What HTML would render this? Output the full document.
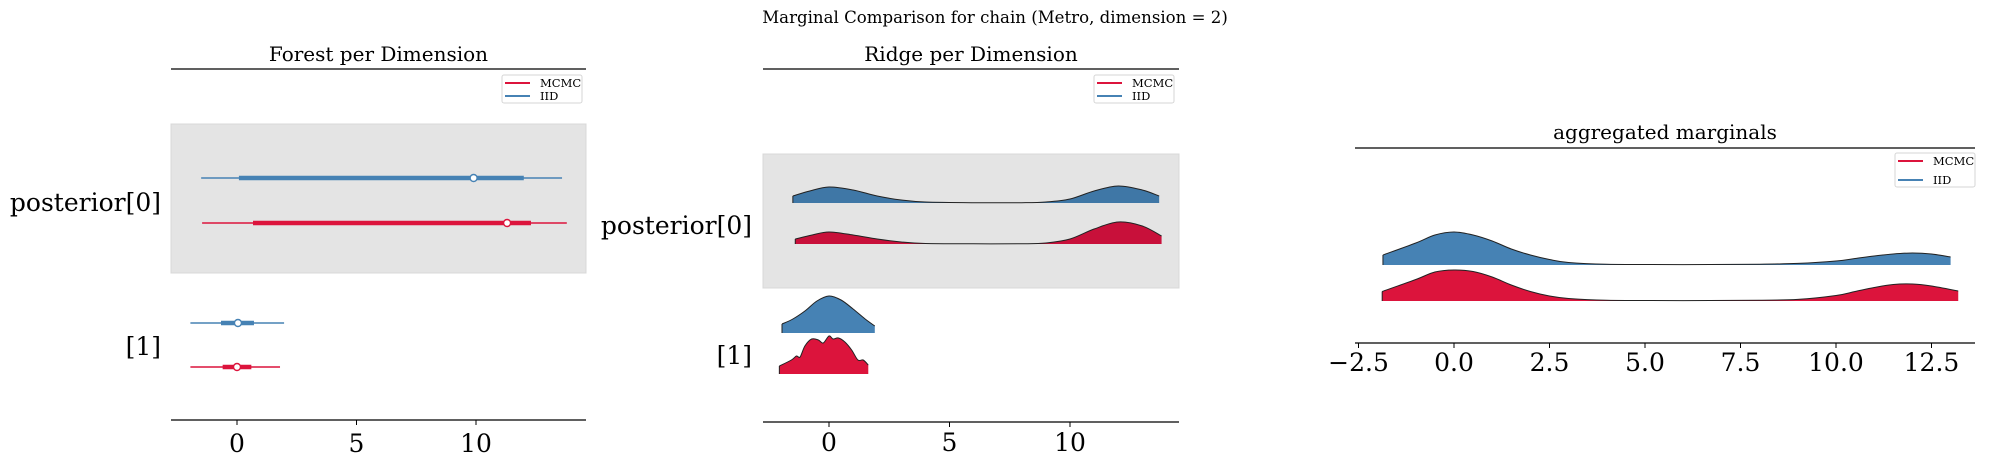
<!DOCTYPE html>
<html><head><meta charset="utf-8">
<style>
html,body{margin:0;padding:0;background:#fff;}
svg{display:block;font-family:"DejaVu Serif","Liberation Serif",serif;}
</style></head>
<body>
<svg id="fig" width="1990" height="465" viewBox="0 0 1990 465" xmlns="http://www.w3.org/2000/svg">
<text x="995" y="23" text-anchor="middle" font-size="16.6" fill="#000">Marginal Comparison for chain (Metro, dimension = 2)</text>
</svg>
<script>
// ---------- data ----------
const seriesNames = ["MCMC", "IID"];
const forestRows = ["posterior[0]", "[1]"];
// forest: [thinLow, thickLow, point, thickHigh, thinHigh]
const forestIID0 = [-1.5, 0.08, 9.9, 12.0, 13.6];
const forestMCMC0 = [-1.46, 0.67, 11.3, 12.3, 13.8];
const forestIID1 = [-1.95, -0.67, 0.04, 0.71, 1.97];
const forestMCMC1 = [-1.95, -0.6, 0.0, 0.6, 1.8];
const xTicksP12 = [0, 5, 10];
const xTicksP3 = [-2.5, 0.0, 2.5, 5.0, 7.5, 10.0, 12.5];
const xTickLabelsP3 = ["\u22122.5", "0.0", "2.5", "5.0", "7.5", "10.0", "12.5"];
// ridge densities (x grid, heights)
const ridgeIID0x = [-1.5, -0.8, 0, 1, 2, 3, 4, 6, 8, 9, 10, 11, 12, 13, 13.7];
const ridgeIID0d = [7, 12, 16, 13, 7, 3, 1, 0.3, 0.3, 1, 4, 12, 17, 13, 7];
const ridgeMCMC0x = [-1.4, -0.7, 0, 1, 2, 3, 4, 6, 8, 9, 10, 11, 12, 13, 13.8];
const ridgeMCMC0d = [5, 9, 12, 9, 5, 2, 0.5, 0.2, 0.2, 1, 5, 15, 22, 18, 8];
const ridgeIID1x = [-1.95, -1.5, -1, -0.5, 0, 0.5, 1, 1.5, 1.9];
const ridgeIID1d = [9, 14, 22, 32, 37, 33, 24, 14, 7];
const ridgeMCMC1x = [-2.06, -1.56, -1.35, -1.2, -1.0, -0.72, -0.44, -0.24, 0, 0.17, 0.39, 0.66, 0.94, 1.2, 1.42, 1.63];
const ridgeMCMC1d = [8, 14, 18, 17, 28, 35, 34, 31, 38, 35, 36, 32, 24, 14, 14, 9];
const aggIIDx = [-1.86, -1, -0.5, 0, 0.5, 1, 1.5, 2, 2.5, 3, 4, 6, 8, 9, 10, 10.5, 11, 11.5, 12, 12.5, 13.0];
const aggIIDd = [10, 22, 30, 33, 30, 24, 16, 10, 5.5, 2.5, 0.8, 0.4, 0.8, 1.6, 4, 6.5, 9, 11, 12, 11, 8];
const aggMCMCx = [-1.88, -1, -0.5, 0, 0.5, 1, 1.5, 2, 2.5, 3, 4, 6, 8, 9, 10, 10.5, 11, 11.5, 12, 12.5, 13.2];
const aggMCMCd = [9.5, 21.5, 29, 31, 29.5, 24, 16, 9.5, 5, 2.5, 0.8, 0.4, 0.8, 1.6, 5.5, 9.5, 13.5, 16.5, 17, 15, 10];

const RED = "#dc143c", BLUE = "#4682b4";
const NS = "http://www.w3.org/2000/svg";
const svg = document.getElementById("fig");
function mk(tag, attrs, parent) {
  const e = document.createElementNS(NS, tag);
  for (const k in attrs) e.setAttribute(k, attrs[k]);
  (parent || svg).appendChild(e);
  return e;
}
function txt(s, attrs) { const t = mk("text", attrs); t.textContent = s; return t; }

// ---------- axes frames ----------
function frame(name, left, right, top, bottom, title, titleY, xf, ticks, labels, labelY) {
  let e = mk("line", {x1: left, x2: right, y1: top, y2: top, stroke: "#000", "stroke-width": 1.2});
  
  
  e = mk("line", {x1: left, x2: right, y1: bottom, y2: bottom, stroke: "#000", "stroke-width": 1.2});
  
  
  e = txt(title, {x: (left + right) / 2, y: titleY + 6, "text-anchor": "middle", "font-size": 20});
  
  
  ticks.forEach((t, i) => {
    const x = xf(t);
    let m = mk("line", {x1: x, x2: x, y1: bottom, y2: bottom + 5, stroke: "#000", "stroke-width": 1});
    
    
    m = txt(labels[i], {x: x, y: labelY + 9, "text-anchor": "middle", "font-size": 25});
    
    
  });
}
function legend(name, x0, y0, w, h) {
  const g = mk("g", {});
  
  
  mk("rect", {x: x0, y: y0, width: w, height: h, rx: 2, fill: "#fff", stroke: "#d6d6d6", "stroke-width": 1}, g);
  [RED, BLUE].forEach((c, i) => {
    const y = y0 + 8 + i * (h - 15);
    mk("line", {x1: x0 + 3, x2: x0 + 28, y1: y, y2: y, stroke: c, "stroke-width": 2}, g);
    const t = mk("text", {x: x0 + 38, y: y + 4, "font-size": 11.5}, g);
    t.textContent = seriesNames[i];
    
    
  });
}
function ylabel(name, s, x, y) {
  const t = txt(s, {x: x, y: y + 9, "text-anchor": "end", "font-size": 25});
  
  
}

// ---------- panel 1: forest ----------
const p1x = v => 237 + v * 23.9;
let band = mk("rect", {x: 171, y: 124, width: 415, height: 149, fill: "#e4e4e4", stroke: "#d8d8d8"});


frame("forest", 171, 586, 69, 420, "Forest per Dimension", 55, p1x, xTicksP12, xTicksP12.map(String), 443);
function forest(vals, y, color, name) {
  const g = mk("g", {});
  
  
  mk("line", {x1: p1x(vals[0]), x2: p1x(vals[4]), y1: y, y2: y, stroke: color, "stroke-width": 1.6}, g);
  mk("line", {x1: p1x(vals[1]), x2: p1x(vals[3]), y1: y, y2: y, stroke: color, "stroke-width": 4.5}, g);
  mk("circle", {cx: p1x(vals[2]), cy: y, r: 3.5, fill: "#fff", stroke: color, "stroke-width": 1.4}, g);
}
forest(forestIID0, 178, BLUE, "forest-iid-posterior0");
forest(forestMCMC0, 223, RED, "forest-mcmc-posterior0");
forest(forestIID1, 323, BLUE, "forest-iid-posterior1");
forest(forestMCMC1, 367, RED, "forest-mcmc-posterior1");
ylabel("forest-y-label-posterior0", forestRows[0], 161, 202);
ylabel("forest-y-label-posterior1", forestRows[1], 161, 346);
legend("forest-legend", 502, 75, 80, 28);

// ---------- ridge helper ----------
function smoothPath(pts) {
  let d = "M" + pts[0][0] + "," + pts[0][1];
  for (let i = 0; i < pts.length - 1; i++) {
    const p0 = pts[Math.max(0, i - 1)], p1 = pts[i], p2 = pts[i + 1], p3 = pts[Math.min(pts.length - 1, i + 2)];
    const c1x = p1[0] + (p2[0] - p0[0]) / 6, c1y = p1[1] + (p2[1] - p0[1]) / 6;
    const c2x = p2[0] - (p3[0] - p1[0]) / 6, c2y = p2[1] - (p3[1] - p1[1]) / 6;
    d += " C" + c1x + "," + c1y + " " + c2x + "," + c2y + " " + p2[0] + "," + p2[1];
  }
  return d;
}
function ridge(xs, ds, xf, base, k, color, name) {
  const pts = xs.map((v, i) => [xf(v), base - ds[i] * k]);
  const top = smoothPath(pts);
  const g = mk("g", {});
  
  
  mk("path", {d: top + " L" + pts[pts.length - 1][0] + "," + base + " L" + pts[0][0] + "," + base + " Z", fill: color, stroke: "none"}, g);
  mk("path", {d: top, fill: "none", stroke: "#222", "stroke-width": 1}, g);
  mk("line", {x1: pts[0][0], x2: pts[0][0], y1: base, y2: pts[0][1], stroke: "#222", "stroke-width": 1}, g);
}

// ---------- panel 2: ridge ----------
const p2x = v => 829 + v * 24.1;
band = mk("rect", {x: 763, y: 154, width: 416, height: 134, fill: "#e4e4e4", stroke: "#d8d8d8"});


frame("ridge", 763, 1179, 69, 422, "Ridge per Dimension", 55, p2x, xTicksP12, xTicksP12.map(String), 442);
ridge(ridgeIID0x, ridgeIID0d, p2x, 203, 1, "#3f77a6", "ridge-iid-posterior0");
ridge(ridgeMCMC0x, ridgeMCMC0d, p2x, 244, 1, "#c8103a", "ridge-mcmc-posterior0");
ridge(ridgeIID1x, ridgeIID1d, p2x, 333, 1, BLUE, "ridge-iid-posterior1");
ridge(ridgeMCMC1x, ridgeMCMC1d, p2x, 374, 1, RED, "ridge-mcmc-posterior1");
ylabel("ridge-y-label-posterior0", forestRows[0], 752, 225);
ylabel("ridge-y-label-posterior1", forestRows[1], 752, 355);
legend("ridge-legend", 1094, 75, 80, 28);

// ---------- panel 3: aggregated ----------
const p3x = v => 1454 + v * 38.2;
frame("aggregated", 1355, 1975, 148, 343, "aggregated marginals", 133, p3x, xTicksP3, xTickLabelsP3, 362);
ridge(aggIIDx, aggIIDd, p3x, 265, 1, BLUE, "aggregated-iid-density");
ridge(aggMCMCx, aggMCMCd, p3x, 301, 1, RED, "aggregated-mcmc-density");
legend("aggregated-legend", 1895, 153, 80, 34);
</script>
</body></html>
